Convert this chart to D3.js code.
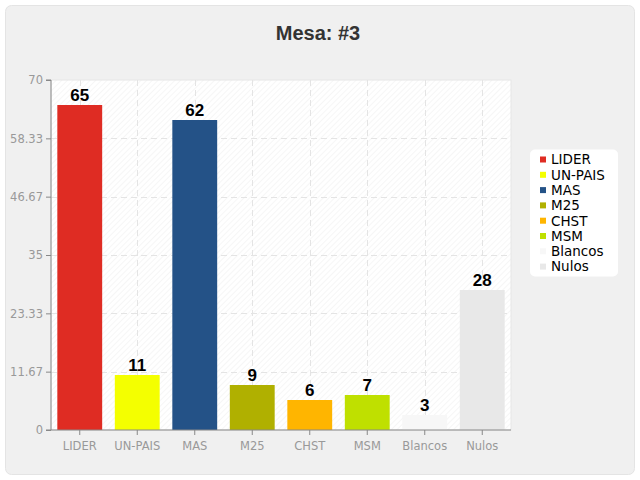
<!DOCTYPE html>
<html><head><meta charset="utf-8">
<script src="https://cdn.jsdelivr.net/npm/d3@7"></script>
<style>body{margin:0;background:#fff;}svg{display:block;}</style>
</head><body>
<svg id="c" width="640" height="480"></svg>
<script>
const categories = ["LIDER","UN-PAIS","MAS","M25","CHST","MSM","Blancos","Nulos"];
const values = [65,11,62,9,6,7,3,28];
const colors = ["#df2c23","#f4ff00","#245287","#b0b000","#ffb500","#bfe000","#f7f7f7","#e8e8e8"];
const yTicks = [0,11.67,23.33,35,46.67,58.33,70];
const title = "Mesa: #3";

const narrow = "'Liberation Sans Narrow', 'Arial Narrow', 'Liberation Sans', Arial, sans-serif";
const svg = d3.select("#c");
const defs = svg.append("defs");
const pat = defs.append("pattern").attr("id","hatch").attr("width",4).attr("height",4)
  .attr("patternUnits","userSpaceOnUse").attr("patternTransform","rotate(45)");
pat.append("rect").attr("width",4).attr("height",4).attr("fill","#ffffff");
pat.append("line").attr("x1",0).attr("y1",0).attr("x2",0).attr("y2",4).attr("stroke","#eeeeee").attr("stroke-width",1);

svg.append("rect").attr("x",0).attr("y",0).attr("width",640).attr("height",480).attr("fill","#ffffff");
svg.append("rect").attr("x",5.5).attr("y",5.5).attr("width",629).attr("height",469).attr("rx",6)
  .attr("fill","#f0f0f0").attr("stroke","#e4e4e4");

const m = {l:51,r:511,t:80,b:430};
const x = d3.scaleBand().domain(categories).range([m.l,m.r]).paddingInner(0.22).paddingOuter(0.11);
const y = d3.scaleLinear().domain([0,70]).range([m.b,m.t]);

svg.append("rect").attr("x",m.l).attr("y",m.t).attr("width",m.r-m.l).attr("height",m.b-m.t)
  .attr("fill","url(#hatch)").attr("stroke","#e6e6e6");

// grid
svg.append("g").selectAll("line").data(yTicks.filter(d=>d>0 && d<70)).join("line")
  .attr("x1",m.l).attr("x2",m.r).attr("y1",d=>Math.round(y(d))+0.5).attr("y2",d=>Math.round(y(d))+0.5)
  .attr("stroke","#e4e4e4").attr("stroke-dasharray","6,4");
svg.append("g").selectAll("line").data(categories).join("line")
  .attr("x1",d=>Math.round(x(d)+x.bandwidth()/2)+0.5).attr("x2",d=>Math.round(x(d)+x.bandwidth()/2)+0.5)
  .attr("y1",m.t).attr("y2",m.b)
  .attr("stroke","#e4e4e4").attr("stroke-dasharray","6,4");

// bars
svg.append("g").selectAll("rect").data(values).join("rect")
  .attr("x",(d,i)=>x(categories[i])).attr("width",x.bandwidth())
  .attr("y",d=>y(d)).attr("height",d=>y(0)-y(d))
  .attr("fill",(d,i)=>colors[i]);

// value labels
svg.append("g").selectAll("text").data(values).join("text")
  .attr("x",(d,i)=>x(categories[i])+x.bandwidth()/2).attr("y",d=>y(d)-4)
  .attr("text-anchor","middle").attr("font-family",narrow)
  .attr("font-weight","bold").attr("font-size",17).attr("fill","#000").text(d=>d);

// axes
const yAxis = d3.axisLeft(y).tickValues(yTicks).tickSize(5).tickFormat(d=>String(d));
const gy = svg.append("g").attr("transform",`translate(${m.l},0)`).call(yAxis);
const xAxis = d3.axisBottom(x).tickSize(5).tickSizeOuter(0);
const gx = svg.append("g").attr("transform",`translate(0,${m.b})`).call(xAxis);
[gy,gx].forEach(g=>{
  g.selectAll("path.domain").attr("stroke","#888");
  g.selectAll(".tick line").attr("stroke","#888");
  g.selectAll("text").attr("fill","#999").attr("font-family","DejaVu Sans, Verdana, sans-serif").attr("font-size",11.5);
});
gy.select("path.domain").attr("d",`M-5,${m.t}H0V${m.b}H-5`);
gx.select("path.domain").attr("d",`M${m.l},0H${m.r}`);
gx.selectAll("text").attr("dy","1.05em");

// title
svg.append("text").attr("x",318).attr("y",40).attr("text-anchor","middle")
  .attr("font-family",narrow).attr("font-weight","bold")
  .attr("font-size",20).attr("fill","#333").text(title);

// legend
const lg = svg.append("g");
lg.append("rect").attr("x",530).attr("y",149.5).attr("width",88).attr("height",127).attr("rx",5)
  .attr("fill","#ffffff");
const items = lg.selectAll("g.it").data(categories).join("g").attr("class","it")
  .attr("transform",(d,i)=>`translate(540,${159.5+i*15.3})`);
items.append("rect").attr("x",0).attr("y",-3).attr("width",6).attr("height",6).attr("fill",(d,i)=>colors[i]);
items.append("text").attr("x",11).attr("y",0).attr("dy","0.36em")
  .attr("font-family","DejaVu Sans, Verdana, sans-serif").attr("font-size",13.5).attr("fill","#000").text(d=>d);
</script>
</body></html>
